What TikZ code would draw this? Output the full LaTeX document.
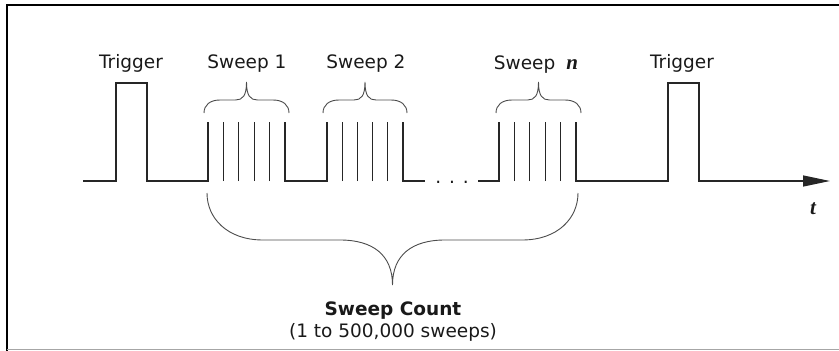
\documentclass[tikz,border=0pt]{standalone}
\usepackage{fontspec}
\setmainfont{DejaVu Sans}
\newfontfamily\varfont{Liberation Serif}
\usetikzlibrary{arrows.meta, positioning}

\tikzset{
  wave/.style={line width=1.3pt,black!85},
  braceline/.style={line width=0.9pt,black!70},
  lbl/.style={font=\fontsize{18.5}{22}\selectfont,text=black!90,
              anchor=base,inner sep=0pt},
  varlbl/.style={font=\fontsize{21}{22}\varfont\bfseries\itshape},
  pics/sweepbrace/.style={code={
    \draw[braceline] (0,0) .. controls (0,-8) and (6,-13) .. (16,-13)
      -- ({#1/2-11},-13) .. controls ({#1/2-4},-13) and ({#1/2},-17) .. ({#1/2},-31)
      .. controls ({#1/2},-17) and ({#1/2+4},-13) .. ({#1/2+11},-13)
      -- ({#1-16},-13) .. controls ({#1-6},-13) and (#1,-8) .. (#1,0);
  }}
}

\begin{document}
\begin{tikzpicture}[x=1pt,y=-1pt]
    \useasboundingbox (0,0) rectangle (839,351);
    % frame
    \draw[line width=2pt] (7,351) -- (7,5) -- (839,5);
    \draw[gray!70,line width=1pt] (7,349.5) -- (839,349.5);
    % trigger and sweep 1
    \draw[wave] (83,181) -- (116,181) -- (116,83) -- (147,83) -- (147,181)
                -- (208,181) -- (208,122);
    \foreach \x in {1,...,4}
      \draw[wave] ({208+15.4*\x},181) -- +(0,-59);
    % sweep 2
    \draw[wave] (285,122) -- (285,181) -- (327,181) -- (327,122);
    \foreach \x in {1,...,4}
      \draw[wave] ({327+15.2*\x},181) -- +(0,-59);
    \draw[wave] (403,122) -- (403,181) -- (425,181);
    \node[lbl] (dots) at (452,183) {. . .};
    % sweep n
    \draw[wave] (478,181) -- (499,181) -- (499,122);
    \foreach \x in {1,...,4}
      \draw[wave] ({499+15.4*\x},181) -- +(0,-59);
    % trigger and time axis
    \draw[wave,-{Triangle[length=27pt,width=11pt]}] (576,122) -- (576,181)
         -- (668,181) -- (668,83) -- (699,83) -- (699,181) -- (830,181);
    % braces
    \pic at (204,113) {sweepbrace=85};
    \pic at (323,113) {sweepbrace=84};
    \pic at (496,113) {sweepbrace=85};
    \draw[braceline] (207,193) .. controls (207,218) and (227,240) .. (263,240)
         -- (340,240) .. controls (373,240) and (392.5,255) .. (392.5,285)
         .. controls (392.5,255) and (412,240) .. (445,240)
         -- (522,240) .. controls (558,240) and (578,218) .. (578,193);
    % labels
    \node[lbl] (trig1) at (131,68) {Trigger};
    \node[lbl] (sweep1) at (247,68) {Sweep 1};
    \node[lbl] (sweep2) at (366,68) {Sweep 2};
    \node[lbl] (sweepn) at (536,69) {Sweep\hspace{0.6em}{\fontsize{21}{22}\varfont\bfseries\itshape n}};
    \node[lbl] (trig2) at (682,68) {Trigger};
    \node[lbl,varlbl] (timelbl) at (813,214) {t};
    \node[lbl,font=\fontsize{18.5}{22}\selectfont\bfseries] (count) at (393,315) {Sweep Count};
    \node[lbl] (range) at (393,337) {(1 to 500,000 sweeps)};
\end{tikzpicture}
\end{document}
